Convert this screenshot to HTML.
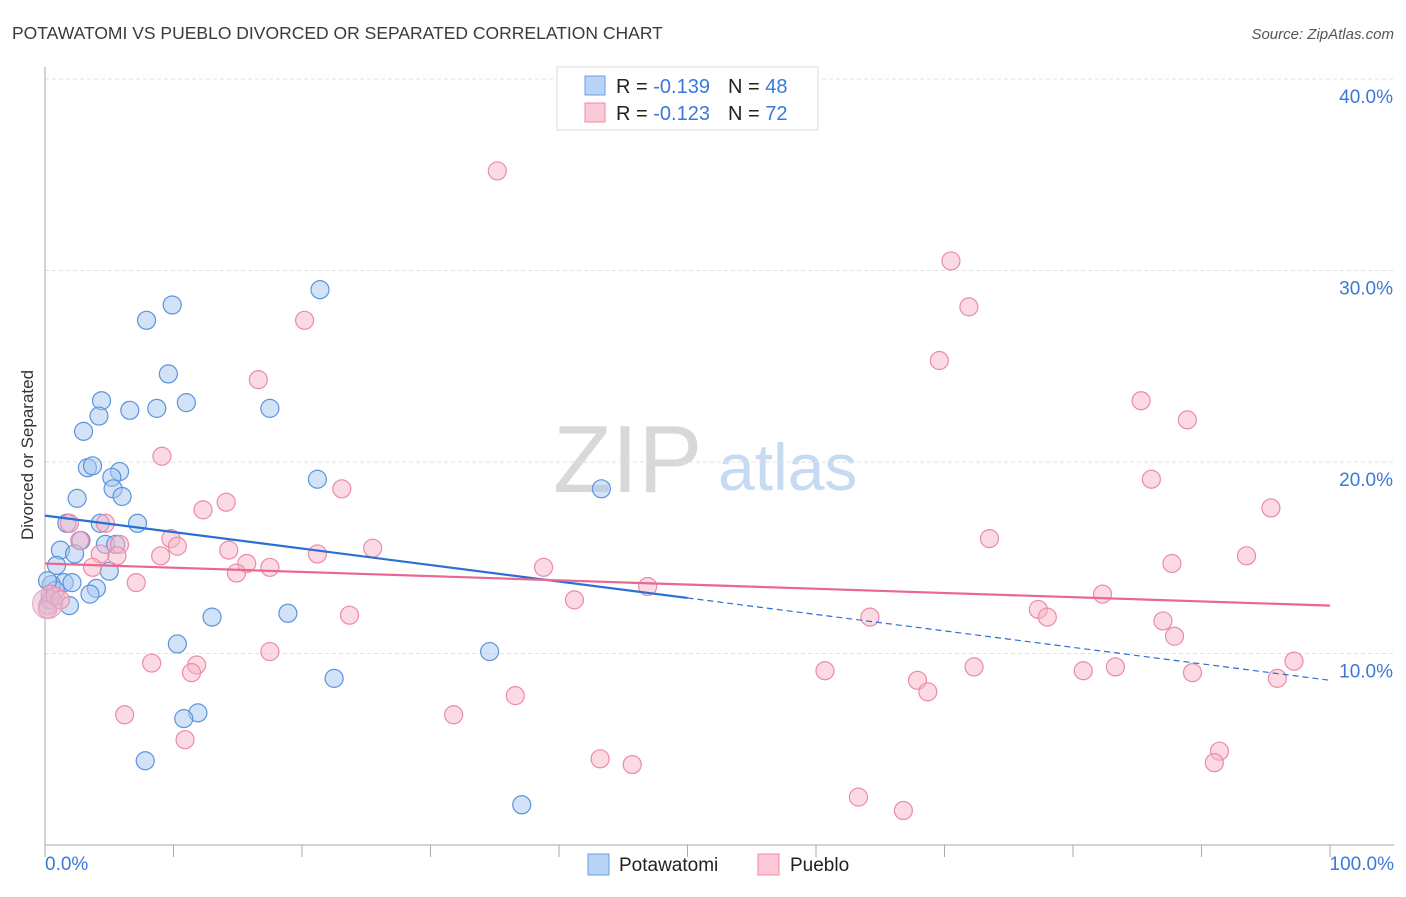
<!DOCTYPE html>
<html><head><meta charset="utf-8"><style>
body{margin:0;background:#fff;font-family:"Liberation Sans",sans-serif;}
svg text{font-family:"Liberation Sans",sans-serif;}
</style></head><body>
<svg id="chart" width="1406" height="892" xmlns="http://www.w3.org/2000/svg">
<text x="12" y="39" font-size="17.5" fill="#3a3a3a">POTAWATOMI VS PUEBLO DIVORCED OR SEPARATED CORRELATION CHART</text>
<text x="1394" y="39" font-size="15" fill="#555" font-style="italic" text-anchor="end">Source: ZipAtlas.com</text>
<text transform="translate(33,455) rotate(-90)" font-size="17" fill="#333" text-anchor="middle">Divorced or Separated</text>
<g><text x="553" y="492" font-size="96" font-family="Liberation Serif,serif" fill="#d8d8d8">ZIP</text><text x="718" y="490" font-size="66" fill="#c6daf3">atlas</text></g>
<g id="grid"></g><g id="axes"></g><g id="marks"></g>
<g>
<rect x="557" y="67" width="261" height="63" fill="#fff" stroke="#ddd"/>
<rect x="585" y="76" width="20" height="19" fill="#b8d3f5" stroke="#6a9fe0"/>
<rect x="585" y="103" width="20" height="19" fill="#fcc9d7" stroke="#f08aa8"/>
<text x="616" y="93" font-size="20" fill="#222">R = <tspan fill="#3b78d8">-0.139</tspan><tspan dx="18">N = </tspan><tspan fill="#3b78d8">48</tspan></text>
<text x="616" y="120" font-size="20" fill="#222">R = <tspan fill="#3b78d8">-0.123</tspan><tspan dx="18">N = </tspan><tspan fill="#3b78d8">72</tspan></text>
</g>
<g>
<rect x="588" y="854" width="21" height="21" fill="#b8d3f5" stroke="#6a9fe0"/>
<text x="619" y="871" font-size="19" fill="#222">Potawatomi</text>
<rect x="758" y="854" width="21" height="21" fill="#fcc9d7" stroke="#f08aa8"/>
<text x="790" y="871" font-size="19" fill="#222">Pueblo</text>
</g>
</svg>
<script>
const yTicks=[10,20,30,40];
const yTickLabels=["10.0%","20.0%","30.0%","40.0%"];
const xTickLabels=["0.0%","100.0%"];
const blueX=[21.4,9.9,7.9,9.6,4.4,11.0,6.6,8.7,17.5,4.2,3.0,3.3,3.7,5.8,5.2,5.3,6.0,21.2,43.3,2.5,1.7,4.3,7.2,2.8,4.7,5.5,1.2,2.3,0.9,5.0,1.5,2.1,0.5,4.0,3.5,0.8,1.9,13.0,18.9,10.3,34.6,22.5,11.9,10.8,7.8,37.1,0.2,0.4];
const blueY=[29.0,28.2,27.4,24.6,23.2,23.1,22.7,22.8,22.8,22.4,21.6,19.7,19.8,19.5,19.2,18.6,18.2,19.1,18.6,18.1,16.8,16.8,16.8,15.9,15.7,15.7,15.4,15.2,14.6,14.3,13.7,13.7,13.6,13.4,13.1,13.3,12.5,11.9,12.1,10.5,10.1,8.7,6.9,6.6,4.4,2.1,13.8,12.8];
const pinkX=[35.2,70.5,71.9,20.2,69.6,16.6,85.3,88.9,9.1,23.1,86.1,14.1,12.3,95.4,73.5,1.9,4.7,2.7,9.8,10.3,14.3,5.8,25.5,21.2,4.3,5.6,9.0,93.5,15.7,87.7,3.7,17.5,38.8,14.9,7.1,46.9,41.2,82.3,77.3,78.0,64.2,23.7,87.0,87.9,17.5,8.3,11.8,11.4,72.3,60.7,80.8,83.3,89.3,97.2,67.9,95.9,68.7,36.6,6.2,31.8,10.9,43.2,45.7,91.4,91.0,63.3,66.8,0.2,0.4,0.2,0.8,1.2];
const pinkY=[35.2,30.5,28.1,27.4,25.3,24.3,23.2,22.2,20.3,18.6,19.1,17.9,17.5,17.6,16.0,16.8,16.8,15.9,16.0,15.6,15.4,15.7,15.5,15.2,15.2,15.1,15.1,15.1,14.7,14.7,14.5,14.5,14.5,14.2,13.7,13.5,12.8,13.1,12.3,11.9,11.9,12.0,11.7,10.9,10.1,9.5,9.4,9.0,9.3,9.1,9.1,9.3,9.0,9.6,8.6,8.7,8.0,7.8,6.8,6.8,5.5,4.5,4.2,4.9,4.3,2.5,1.8,12.5,13.1,12.3,13.0,12.8];
const blueTrend=[17.2,8.6];
const pinkTrend=[14.7,12.5];
const NS="http://www.w3.org/2000/svg";
const X=v=>45+v*12.85, Y=v=>845-v*19.15;
function mk(t,a,p){const e=document.createElementNS(NS,t);for(const k in a)e.setAttribute(k,a[k]);p.appendChild(e);return e;}
const grid=document.getElementById('grid'),axes=document.getElementById('axes'),marks=document.getElementById('marks');
yTicks.forEach((t,i)=>{
 const l=mk('line',{x1:45,x2:1394,y1:Y(t),y2:Y(t),stroke:'#e2e2e2','stroke-dasharray':'4,3'},grid);
 
 
 const tx=mk('text',{x:1393,y:Y(t)+24,'font-size':19,fill:'#3b78d8','text-anchor':'end'},grid);
 tx.textContent=yTickLabels[i];
 
 
});
const ya=mk('line',{x1:45,x2:45,y1:67,y2:845,stroke:'#aaa'},axes);


const xa=mk('line',{x1:45,x2:1394,y1:845,y2:845,stroke:'#aaa'},axes);


for(let i=0;i<=10;i++){const t=mk('line',{x1:X(i*10),x2:X(i*10),y1:845,y2:857,stroke:'#aaa'},axes);
 
 }
[[0,'start',45],[100,'end',1394]].forEach((d,i)=>{const t=mk('text',{x:d[2],y:870,'font-size':19,fill:'#3b78d8','text-anchor':d[1]},axes);t.textContent=xTickLabels[i];
 
 });
function dots(xs,ys,fill,stroke,name){xs.forEach((x,i)=>{const c=mk('circle',{cx:X(x),cy:Y(ys[i]),r:9,fill:fill,'fill-opacity':0.5,stroke:stroke,'stroke-width':1.2},marks);
 
 });}
dots(blueX,blueY,'#a8c8f0','#5b93dd','potawatomi-point');
dots(pinkX,pinkY,'#f7b6c8','#ec8aa8','pueblo-point');
const big=mk('circle',{cx:X(0.2),cy:Y(12.6),r:15,fill:'#d9b8d0','fill-opacity':0.5,stroke:'#e9a0bb'},marks);


const bs=(v)=>blueTrend[0]+(blueTrend[1]-blueTrend[0])*v/100;
const b1=mk('line',{x1:X(0),y1:Y(bs(0)),x2:X(50),y2:Y(bs(50)),stroke:'#2a6fd6','stroke-width':2.2},marks);


const b2=mk('line',{x1:X(50),y1:Y(bs(50)),x2:X(100),y2:Y(bs(100)),stroke:'#2a6fd6','stroke-width':1.2,'stroke-dasharray':'6,4'},marks);


const p1=mk('line',{x1:X(0),y1:Y(pinkTrend[0]),x2:X(100),y2:Y(pinkTrend[1]),stroke:'#e86890','stroke-width':2.2},marks);


</script>
</body></html>
